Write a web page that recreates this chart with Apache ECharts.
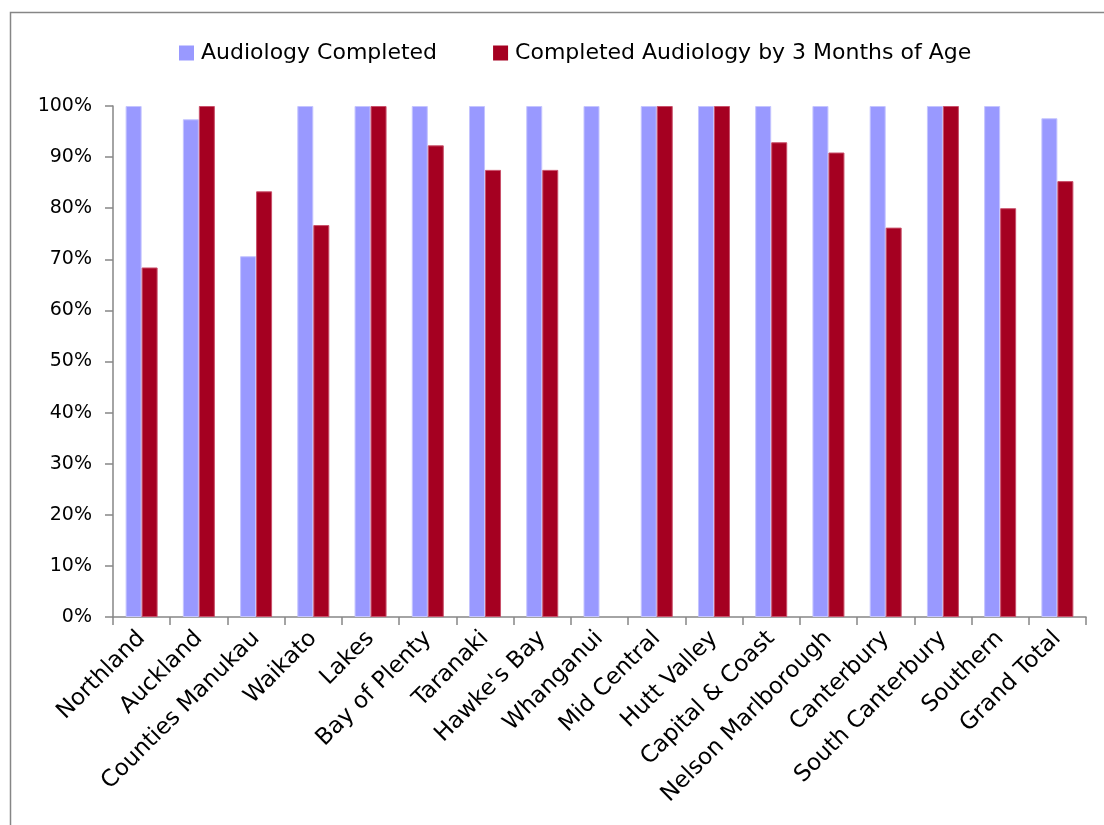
<!DOCTYPE html>
<html>
<head>
<meta charset="utf-8">
<title>Audiology completion by DHB</title>
<script src="https://cdn.jsdelivr.net/npm/echarts@6/dist/echarts.min.js"></script>
<style>
  html, body { margin: 0; padding: 0; background: #fff; }
  #chart { width: 1104px; height: 825px; }
</style>
</head>
<body>
<div id="chart"></div>
<script>
// District health boards, with the national total at the end
const categories = [
  'Northland', 'Auckland', 'Counties Manukau', 'Waikato', 'Lakes',
  'Bay of Plenty', 'Taranaki', "Hawke's Bay", 'Whanganui', 'Mid Central',
  'Hutt Valley', 'Capital & Coast', 'Nelson Marlborough', 'Canterbury',
  'South Canterbury', 'Southern', 'Grand Total'
];

// Percentage of referred babies with audiology completed
const audiologyCompleted = [
  100, 97.4, 70.6, 100, 100,
  100, 100, 100, 100, 100,
  100, 100, 100, 100,
  100, 100, 97.6
];

// Percentage completed by three months of age
const completedBy3Months = [
  68.4, 100, 83.3, 76.7, 100,
  92.3, 87.5, 87.5, 0, 100,
  100, 92.9, 90.9, 76.2,
  100, 80.0, 85.3
];

const seriesNames = ['Audiology Completed', 'Completed Audiology by 3 Months of Age'];
const yTicks = { min: 0, max: 100, interval: 10 };

const FONT = 'DejaVu Sans';
const AXIS_GREY = '#868686';

// Zero-height bars get no outline so nothing is drawn for them
function withEdges(values, edge) {
  return values.map(v => ({
    value: v,
    itemStyle: { borderColor: edge, borderWidth: v > 0 ? 1 : 0 }
  }));
}

const chart = echarts.init(document.getElementById('chart'), null, { renderer: 'canvas' });

chart.setOption({
  animation: false,
  backgroundColor: '#ffffff',
  graphic: [{
    type: 'rect',
    shape: { x: 10.5, y: 12.5, width: 1110, height: 830 },
    style: { fill: 'none', stroke: AXIS_GREY, lineWidth: 1.5 },
    silent: true,
    z: -10
  }],
  legend: {
    top: 37,
    left: 174,
    itemWidth: 15,
    itemHeight: 15,
    itemGap: 56,
    icon: 'rect',
    itemStyle: { borderWidth: 0 },
    textStyle: { fontFamily: FONT, fontSize: 22, color: '#000', padding: [0, 0, 0, 2] },
    data: seriesNames
  },
  grid: { left: 113, right: 18, top: 106, bottom: 208, containLabel: false },
  xAxis: {
    type: 'category',
    data: categories,
    axisLine: { show: true, lineStyle: { color: AXIS_GREY, width: 1.5 } },
    axisTick: { show: true, alignWithLabel: false, length: 8, lineStyle: { color: AXIS_GREY, width: 1.5 } },
    axisLabel: {
      rotate: 45,
      interval: 0,
      margin: 18,
      fontFamily: FONT,
      fontSize: 23,
      color: '#000'
    },
    splitLine: { show: false }
  },
  yAxis: {
    type: 'value',
    min: yTicks.min,
    max: yTicks.max,
    interval: yTicks.interval,
    axisLine: { show: true, lineStyle: { color: AXIS_GREY, width: 1.5 } },
    axisTick: { show: true, inside: false, length: 8, lineStyle: { color: AXIS_GREY, width: 1.5 } },
    axisLabel: {
      formatter: '{value}%',
      margin: 21,
      fontFamily: FONT,
      fontSize: 19,
      color: '#000'
    },
    splitLine: { show: false }
  },
  series: [
    {
      name: seriesNames[0],
      type: 'bar',
      data: withEdges(audiologyCompleted, '#c4c4ff'),
      barWidth: 16,
      barGap: '0%',
      itemStyle: { color: '#9999FF' }
    },
    {
      name: seriesNames[1],
      type: 'bar',
      data: withEdges(completedBy3Months, '#c9506a'),
      barWidth: 16,
      barGap: '0%',
      itemStyle: { color: '#A50021' }
    }
  ]
});
</script>
</body>
</html>
